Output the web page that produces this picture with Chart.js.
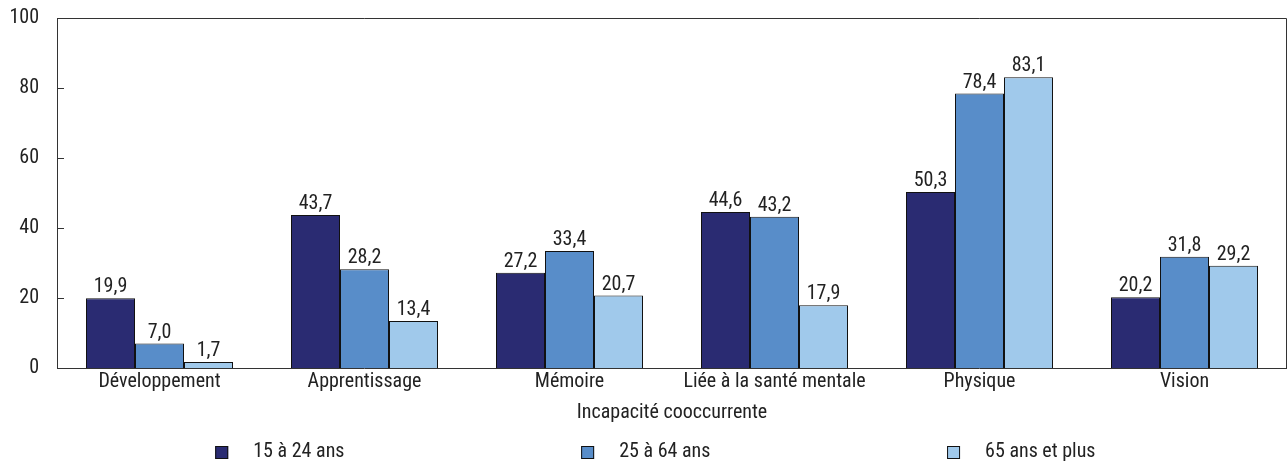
<!DOCTYPE html>
<html>
<head>
<meta charset="utf-8">
<script src="https://cdn.jsdelivr.net/npm/chart.js@4.4.1/dist/chart.umd.min.js"></script>
<style>
  html, body { margin: 0; padding: 0; background: #fff; }
  #wrap { width: 1288px; height: 461px; position: relative; }
</style>
</head>
<body>
<div id="wrap"><canvas id="c"></canvas></div>
<script>
const categories = ["Développement", "Apprentissage", "Mémoire", "Liée à la santé mentale", "Physique", "Vision"];
const seriesNames = ["15 à 24 ans", "25 à 64 ans", "65 ans et plus"];
const age15to24 = [19.9, 43.7, 27.2, 44.6, 50.3, 20.2];
const age25to64 = [7.0, 28.2, 33.4, 43.2, 78.4, 31.8];
const age65plus = [1.7, 13.4, 20.7, 17.9, 83.1, 29.2];
const yTicks = [0, 20, 40, 60, 80, 100];
const xTitle = "Incapacité cooccurrente";
const colors = ["#2a2b72", "#588dc9", "#a0c9eb"];

const FONT = "'Liberation Sans Narrow', 'Roboto Condensed', 'DejaVu Sans Condensed', sans-serif";
const FS = 20;
const TXT = "#222";

const fmt = v => v.toFixed(1).replace('.', ',');

const decor = {
  id: 'decor',
  afterDatasetsDraw(chart) {
    const ctx = chart.ctx;
    const a = chart.chartArea;
    const y = chart.scales.y;
    ctx.save();
    ctx.strokeStyle = '#333';
    ctx.lineWidth = 1;
    ctx.beginPath();
    ctx.moveTo(a.left + 0.5, a.bottom);
    ctx.lineTo(a.left + 0.5, a.top + 0.5);
    ctx.lineTo(a.right - 0.5, a.top + 0.5);
    ctx.lineTo(a.right - 0.5, a.bottom);
    ctx.stroke();
    ctx.beginPath();
    ctx.moveTo(a.left, a.bottom + 0.5);
    ctx.lineTo(a.right, a.bottom + 0.5);
    ctx.stroke();
    yTicks.forEach(t => {
      const py = Math.round(y.getPixelForValue(t)) + 0.5;
      ctx.beginPath();
      ctx.moveTo(a.left, py);
      ctx.lineTo(a.left + 7, py);
      ctx.stroke();
    });
    ctx.fillStyle = TXT;
    ctx.font = FS + "px " + FONT;
    ctx.textAlign = 'center';
    ctx.textBaseline = 'alphabetic';
    chart.data.datasets.forEach((ds, i) => {
      const meta = chart.getDatasetMeta(i);
      meta.data.forEach((el, j) => {
        ctx.fillText(fmt(ds.data[j]), el.x, el.y - 6);
      });
    });
    ctx.textBaseline = 'middle';
    ctx.fillText(xTitle, (a.left + a.right) / 2, 413);
    const fr = [0.1335, 0.431, 0.7285];
    ctx.textAlign = 'left';
    seriesNames.forEach((n, i) => {
      const cx = a.left + fr[i] * (a.right - a.left);
      ctx.fillStyle = colors[i];
      ctx.fillRect(cx - 6, 446, 13, 13);
      ctx.strokeStyle = '#111';
      ctx.strokeRect(cx - 6 + 0.5, 446 + 0.5, 12, 12);
      ctx.fillStyle = TXT;
      ctx.fillText(n, cx + 32, 452);
    });
    ctx.restore();
  }
};

new Chart(document.getElementById('c'), {
  type: 'bar',
  data: {
    labels: categories,
    datasets: seriesNames.map((n, i) => ({
      label: n,
      data: [age15to24, age25to64, age65plus][i],
      backgroundColor: colors[i],
      borderColor: '#111',
      borderWidth: 1,
      categoryPercentage: 0.717,
      barPercentage: 1.0
    }))
  },
  options: {
    responsive: true,
    maintainAspectRatio: false,
    animation: false,
    layout: { padding: { top: 18, right: 1, left: 0, bottom: 0 } },
    plugins: { legend: { display: false }, tooltip: { enabled: false } },
    scales: {
      x: {
        grid: { display: false, drawTicks: false },
        border: { display: false },
        ticks: { color: TXT, font: { family: FONT, size: FS }, padding: 2, maxRotation: 0, autoSkip: false },
        afterFit(s) { s.height = 93; s.paddingLeft = 0; s.paddingRight = 0; }
      },
      y: {
        min: 0, max: 100,
        afterBuildTicks(s) { s.ticks = yTicks.map(v => ({ value: v })); },
        grid: { display: false, drawTicks: false },
        border: { display: false },
        ticks: { color: TXT, font: { family: FONT, size: FS }, padding: 18 },
        afterFit(s) { s.width = 57; s.paddingTop = 0; s.paddingBottom = 0; }
      }
    }
  },
  plugins: [decor]
});
</script>
</body>
</html>
